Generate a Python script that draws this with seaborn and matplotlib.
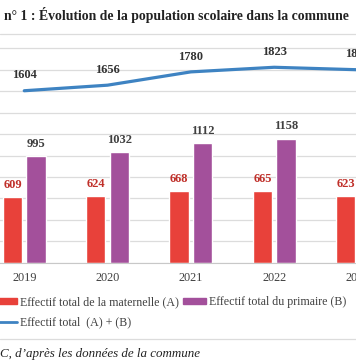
import numpy as np
import pandas as pd
import matplotlib.pyplot as plt
import seaborn as sns
from matplotlib.lines import Line2D
from matplotlib.patches import Patch

#   --  data
years = ["2019", "2020", "2021", "2022", "2023"]
maternelle = [609, 624, 668, 665, 623]
primaire = [995, 1032, 1112, 1158, 1177]
total = [1604, 1656, 1780, 1823, 1800]

lab_mat = "Effectif total de la maternelle (A)"
lab_pri = "Effectif total du primaire (B)"
lab_tot = "Effectif total  (A) + (B)"

RED = "#e8413a"
PURPLE = "#a3509b"
BLUE = "#3e83c2"
GRID = "#dcdcdc"

sns.set_style("white")
plt.rcParams["font.family"] = ["Liberation Serif", "DejaVu Serif"]

df = pd.DataFrame({
    "annee": years * 2,
    "effectif": maternelle + primaire,
    "serie": [lab_mat] * len(years) + [lab_pri] * len(years),
})

W, H = 356, 364
fig = plt.figure(figsize=(W / 100, H / 100), dpi=100)

# axes wider than the figure: the reference is a crop of a bigger chart
px_per_unit = 0.1072
ymax = 2100
left_px = 24.25 - 41.65
ax = fig.add_axes([left_px / W, (H - 262.7) / H, 416.5 / W, ymax * px_per_unit / H])

sns.barplot(data=df, x="annee", y="effectif", hue="serie",
            palette=[RED, PURPLE], width=0.565, gap=0.18,
            saturation=1, legend=False, ax=ax)
sns.lineplot(x=np.arange(len(years)), y=total, color=BLUE, linewidth=2.3,
             ax=ax, legend=False)

ax.set_xlim(-0.5, len(years) - 0.5)
ax.set_ylim(0, ymax)
ax.set_yticks(range(0, 2001, 200))
ax.yaxis.grid(True, color=GRID, linewidth=0.9)
ax.set_axisbelow(True)
ax.set_yticklabels([])
ax.tick_params(axis="y", length=0)
ax.set_xlabel("")
ax.set_ylabel("")
for s in ["left", "right", "top"]:
    ax.spines[s].set_visible(False)
ax.spines["bottom"].set_color("#c8c8c8")
ax.tick_params(axis="x", which="major", length=0, labelsize=8.8,
               colors="#404040", pad=7)
ax.set_xticks(np.arange(-0.5, len(years), 1), minor=True)
ax.tick_params(axis="x", which="minor", length=3, color="#c8c8c8")

# value labels
ax.bar_label(ax.containers[0], padding=4.5, fontsize=9, fontweight="bold",
             color="#c0302a")
ax.bar_label(ax.containers[1], padding=4.5, fontsize=9, fontweight="bold",
             color="#404040")
for i, v in enumerate(total):
    ax.annotate(str(v), (i, v), xytext=(0, 11), textcoords="offset points",
                ha="center", va="center", fontsize=9, fontweight="bold",
                color="#333333")

# title and frame
fig.text(4 / W, 1 - 15 / H,
         "n° 1 : Évolution de la population scolaire dans la commune",
         ha="left", va="center", fontsize=9.95, fontweight="bold",
         color="#222222")
for yp in [34, 339]:
    fig.add_artist(Line2D([0, 1], [1 - yp / H] * 2, color=GRID,
                          linewidth=0.9, transform=fig.transFigure))

handles = [Patch(color=RED, label=lab_mat),
           Line2D([], [], color=BLUE, linewidth=2, label=lab_tot),
           Patch(color=PURPLE, label=lab_pri)]
fig.legend(handles=handles, ncol=2, loc="upper left",
           bbox_to_anchor=(-6 / W, 1 - 296.5 / H), frameon=False,
           fontsize=8.6, borderpad=0, borderaxespad=0, handlelength=1.95,
           handleheight=0.42, handletextpad=0.25, columnspacing=0.3,
           labelspacing=0.65, labelcolor="#404040")

fig.text(0, 1 - 354 / H, "C, d’après les données de la commune",
         ha="left", va="center", fontsize=9.4, style="italic",
         color="#222222")

fig.savefig("out.png", dpi=100)
